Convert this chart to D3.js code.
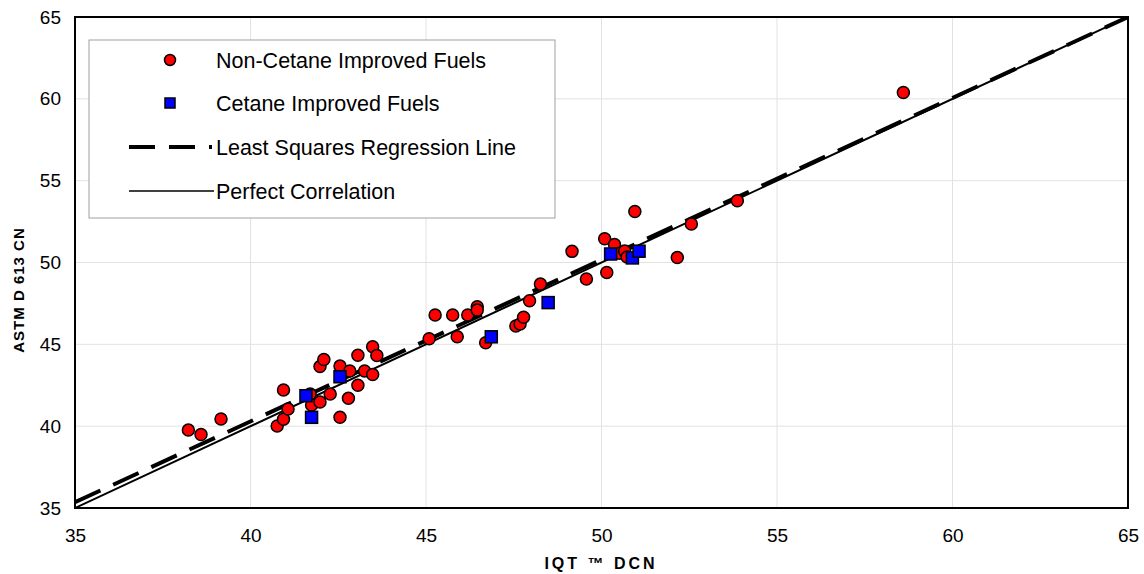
<!DOCTYPE html>
<html>
<head>
<meta charset="utf-8">
<script src="https://cdn.jsdelivr.net/npm/d3@7"></script>
<style>
  body { margin: 0; background: #fff; }
  svg text { font-family: "Liberation Sans", Arial, sans-serif; fill: #000; }
</style>
</head>
<body>
<svg id="chart" width="1144" height="574"></svg>
<script>
// data
var nonCetaneX = [38.23, 38.59, 39.16, 40.76, 40.94, 41.07, 40.94, 41.70, 41.74, 41.98,
  41.98, 42.09, 42.27, 42.55, 42.55, 42.83, 42.79, 43.06, 43.06, 43.25,
  43.48, 43.60, 43.48, 45.09, 45.26, 45.89, 45.76, 46.19, 46.46, 46.46,
  46.70, 47.56, 47.68, 47.78, 47.95, 48.26, 49.16, 49.57, 50.15, 50.09,
  50.37, 50.51, 50.66, 50.73, 50.95, 52.16, 52.56, 53.87, 58.60];
var nonCetaneY = [39.76, 39.49, 40.44, 40.01, 40.42, 41.05, 42.21, 41.96, 41.29, 41.48,
  43.64, 44.07, 41.96, 43.67, 40.54, 43.37, 41.70, 42.50, 44.33, 43.37,
  44.85, 44.32, 43.16, 45.34, 46.79, 45.46, 46.79, 46.79, 47.30, 47.10,
  45.10, 46.12, 46.24, 46.65, 47.66, 48.68, 50.68, 48.99, 49.39, 51.45,
  51.10, 50.56, 50.70, 50.33, 53.12, 50.30, 52.35, 53.77, 60.39];

var cetaneX = [41.58, 41.74, 42.55, 46.86, 48.48, 50.26, 50.88, 51.07];
var cetaneY = [41.86, 40.54, 43.02, 45.46, 47.55, 50.52, 50.28, 50.69];

var regLineX = [35, 65];
var regLineY = [35.35, 65.0];
var perfectX = [35, 65];
var perfectY = [35, 65];

var xTicks = [35, 40, 45, 50, 55, 60, 65];
var yTicks = [35, 40, 45, 50, 55, 60, 65];

var legendLabels = ["Non-Cetane Improved Fuels", "Cetane Improved Fuels",
  "Least Squares Regression Line", "Perfect Correlation"];

var margin = {top: 17, right: 16, bottom: 66, left: 75},
    width = 1144 - margin.left - margin.right,
    height = 574 - margin.top - margin.bottom;

var svg = d3.select("#chart");
var g = svg.append("g")
  .attr("transform", "translate(" + margin.left + "," + margin.top + ")");

var x = d3.scaleLinear().domain([35, 65]).range([0, width]);
var y = d3.scaleLinear().domain([35, 65]).range([height, 0]);

// grid
g.append("g")
  .selectAll("line.vgrid")
  .data(xTicks.slice(1, -1))
  .enter().append("line")
  .attr("x1", function(d) { return x(d); })
  .attr("x2", function(d) { return x(d); })
  .attr("y1", 0).attr("y2", height)
  .style("stroke", "#e2e2e2").style("stroke-width", 1);

g.append("g")
  .selectAll("line.hgrid")
  .data(yTicks.slice(1, -1))
  .enter().append("line")
  .attr("y1", function(d) { return y(d); })
  .attr("y2", function(d) { return y(d); })
  .attr("x1", 0).attr("x2", width)
  .style("stroke", "#e2e2e2").style("stroke-width", 1);

// axes
var xAxis = d3.axisBottom(x).tickValues(xTicks).tickSize(0).tickPadding(21);
var yAxis = d3.axisLeft(y).tickValues(yTicks).tickSize(0).tickPadding(14);

var gx = g.append("g")
  .attr("transform", "translate(0," + height + ")")
  .call(xAxis);
gx.select(".domain").remove();
gx.selectAll("text").style("font-size", "19px").attr("font-family", null);

var gy = g.append("g").call(yAxis);
gy.select(".domain").remove();
gy.selectAll("text").style("font-size", "19px").attr("font-family", null);

// frame
g.append("rect")
  .attr("x", 0).attr("y", 0)
  .attr("width", width).attr("height", height)
  .style("fill", "none").style("stroke", "#000").style("stroke-width", 2);

// lines
var line = d3.line()
  .x(function(d) { return x(d[0]); })
  .y(function(d) { return y(d[1]); });

g.append("clipPath").attr("id", "plotclip")
  .append("rect").attr("width", width).attr("height", height);

g.append("path")
  .datum(perfectX.map(function(v, i) { return [v, perfectY[i]]; }))
  .attr("d", line)
  .attr("clip-path", "url(#plotclip)")
  .style("fill", "none").style("stroke", "#000").style("stroke-width", 2);

g.append("path")
  .datum(regLineX.map(function(v, i) { return [v, regLineY[i]]; }))
  .attr("d", line)
  .attr("clip-path", "url(#plotclip)")
  .style("fill", "none").style("stroke", "#000").style("stroke-width", 4)
  .style("stroke-dasharray", "28,14");

// points
g.append("g")
  .selectAll("circle")
  .data(nonCetaneX.map(function(v, i) { return [v, nonCetaneY[i]]; }))
  .enter().append("circle")
  .attr("cx", function(d) { return x(d[0]); })
  .attr("cy", function(d) { return y(d[1]); })
  .attr("r", 6)
  .style("fill", "#ff0000").style("stroke", "#000").style("stroke-width", 1.5);

g.append("g")
  .selectAll("rect")
  .data(cetaneX.map(function(v, i) { return [v, cetaneY[i]]; }))
  .enter().append("rect")
  .attr("x", function(d) { return x(d[0]) - 6; })
  .attr("y", function(d) { return y(d[1]) - 6; })
  .attr("width", 12).attr("height", 12)
  .style("fill", "#0000ff").style("stroke", "#000").style("stroke-width", 1.5);

// legend
var legend = svg.append("g").attr("transform", "translate(89,40)");
legend.append("rect")
  .attr("width", 466).attr("height", 178)
  .style("fill", "#fff").style("stroke", "#a0a0a0").style("stroke-width", 1);

var rowY = [20, 63, 107, 151];
legend.selectAll("text.leg")
  .data(legendLabels)
  .enter().append("text")
  .attr("x", 127)
  .attr("y", function(d, i) { return rowY[i]; })
  .attr("dy", "0.35em")
  .style("font-size", "21.5px")
  .text(function(d) { return d; });

legend.append("circle")
  .attr("cx", 81).attr("cy", rowY[0]).attr("r", 5.5)
  .style("fill", "#ff0000").style("stroke", "#000").style("stroke-width", 1.5);
legend.append("rect")
  .attr("x", 76).attr("y", rowY[1] - 5).attr("width", 10).attr("height", 10)
  .style("fill", "#0000ff").style("stroke", "#000").style("stroke-width", 1.5);
legend.append("line")
  .attr("x1", 40).attr("x2", 123).attr("y1", rowY[2]).attr("y2", rowY[2])
  .style("stroke", "#000").style("stroke-width", 4).style("stroke-dasharray", "26,14");
legend.append("line")
  .attr("x1", 40).attr("x2", 125).attr("y1", rowY[3]).attr("y2", rowY[3])
  .style("stroke", "#000").style("stroke-width", 1.5);

// axis titles
svg.append("text")
  .attr("transform", "translate(24,290) rotate(-90)")
  .style("text-anchor", "middle")
  .style("font-size", "15px")
  .style("font-weight", "bold")
  .style("letter-spacing", "1px")
  .text("ASTM D 613 CN");

svg.append("text")
  .attr("x", 601).attr("y", 569)
  .style("text-anchor", "middle")
  .style("font-size", "16px")
  .style("font-weight", "bold")
  .style("letter-spacing", "3px")
  .text("IQT \u2122 DCN");
</script>
</body>
</html>
